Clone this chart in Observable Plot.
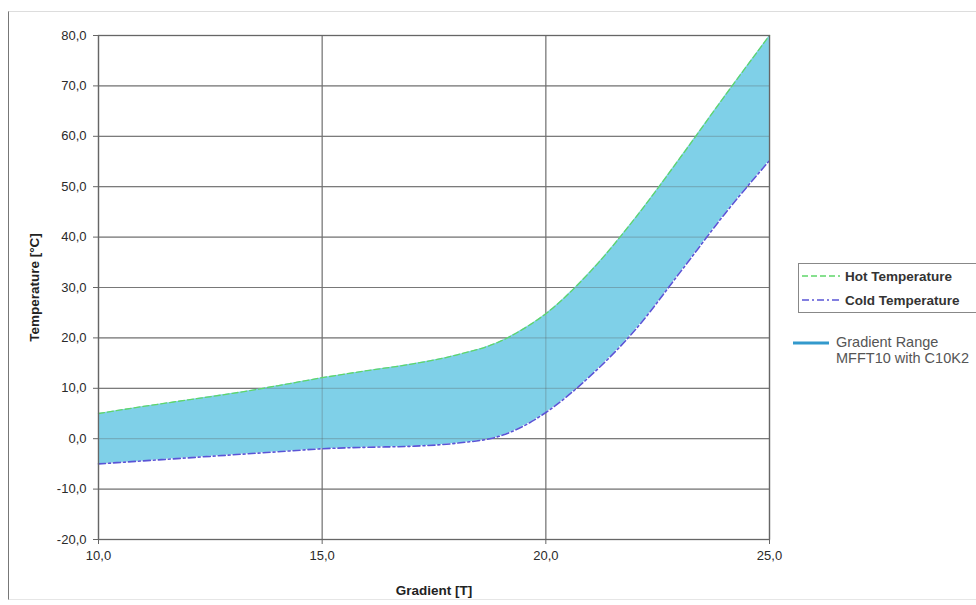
<!DOCTYPE html>
<html>
<head>
<meta charset="utf-8">
<script src="https://cdn.jsdelivr.net/npm/d3@7"></script>
<script src="https://cdn.jsdelivr.net/npm/@observablehq/plot@0.6"></script>
<style>
  html, body { margin: 0; padding: 0; background: #fff; overflow: hidden; }
  #wrap { position: relative; width: 976px; height: 605px; font-family: "Liberation Sans", Arial, sans-serif; }
  #border { position: absolute; left: 8px; top: 11px; width: 968px; height: 589px;
            border-left: 1.5px solid #777; border-top: 1px solid #ddd; border-bottom: 1px solid #e6e6e6; box-sizing: border-box; }
  #chart { position: absolute; left: 0; top: 0; }
  #chart svg text { font-family: "Liberation Sans", Arial, sans-serif; }
  #legend { position: absolute; left: 798px; top: 263px; width: 200px; height: 50px;
            border: 1px solid #888; box-sizing: border-box; background: #fff; }
  .row { position: absolute; left: 3px; height: 18px; display: flex; align-items: center;
         font-size: 13.5px; font-weight: bold; color: #333; white-space: nowrap; }
  .row svg { margin-right: 5px; }
  #range { position: absolute; left: 793px; top: 334px; font-size: 14.5px; color: #555; line-height: 16px; }
  #range svg { position: absolute; left: 0; top: 6px; }
  #range div { position: absolute; left: 43px; top: 0; white-space: nowrap; }
</style>
</head>
<body>
<div id="wrap">
  <div id="border"></div>
  <div id="chart"></div>
  <div id="legend"></div>
  <div id="range"></div>
</div>
<script>
// ---- data ----
const gradient = [10, 11, 12, 13, 14, 15, 16, 17, 18, 19, 19.5, 20, 21, 22, 23, 24, 25];
const hotTemp  = [5.0, 6.4, 7.7, 9.0, 10.5, 12.1, 13.5, 14.8, 16.6, 19.4, 21.8, 24.8, 33.2, 43.8, 55.7, 68.0, 80.0];
const coldTemp = [-5.0, -4.4, -3.8, -3.2, -2.6, -2.0, -1.7, -1.5, -0.9, 0.6, 2.5, 5.2, 12.5, 21.6, 33.0, 44.6, 55.2];
const xTicks = [10, 15, 20, 25];
const yTicks = [-20, -10, 0, 10, 20, 30, 40, 50, 60, 70, 80];
const seriesNames = ["Hot Temperature", "Cold Temperature"];
const rangeLabel = ["Gradient Range", "MFFT10 with C10K2"];

const colors = { hot: "#5fd66a", cold: "#5a55d6", fill: "#7fd0e8", range: "#3399cc" };

const data = gradient.map((g, i) => ({ g, hot: hotTemp[i], cold: coldTemp[i] }));
const fmt = d => d3.format(".1f")(d).replace(".", ",").replace("−", "-");

const chart = Plot.plot({
  width: 976,
  height: 605,
  marginLeft: 98,
  marginRight: 207,
  marginTop: 35,
  marginBottom: 66,
  style: { fontSize: "13px", color: "#2a2a2a", background: "transparent" },
  x: { domain: [10, 25] },
  y: { domain: [-20, 80] },
  marks: [
    Plot.gridY(yTicks, { stroke: "#8a8a8a", strokeOpacity: 1, strokeWidth: 1.2 }),
    Plot.gridX(xTicks, { stroke: "#8a8a8a", strokeOpacity: 1, strokeWidth: 1.2 }),
    Plot.areaY(data, { x: "g", y1: "cold", y2: "hot", fill: colors.fill, curve: "monotone-x" }),
    Plot.gridY(yTicks, { stroke: "#555", strokeOpacity: 0.35, strokeWidth: 1 }),
    Plot.gridX(xTicks, { stroke: "#555", strokeOpacity: 0.35, strokeWidth: 1 }),
    Plot.lineY(data, { x: "g", y: "hot", stroke: colors.hot, strokeWidth: 1.3, strokeDasharray: "6,3", curve: "monotone-x" }),
    Plot.lineY(data, { x: "g", y: "cold", stroke: colors.cold, strokeWidth: 1.6, strokeDasharray: "7,3,2,3", curve: "monotone-x" }),
    Plot.frame({ stroke: "#666", strokeWidth: 1.3 }),
    Plot.axisY(yTicks, { tickFormat: fmt, tickSize: 5, tickPadding: 7, stroke: "#666", fontSize: 13,
      label: "Temperature [°C]", labelAnchor: "center", labelOffset: 69, labelArrow: "none" }),
    Plot.axisX(xTicks, { tickFormat: fmt, tickSize: 5, tickPadding: 6, stroke: "#666", fontSize: 13,
      label: "Gradient [T]", labelAnchor: "center", labelOffset: 55, labelArrow: "none" })
  ]
});
document.getElementById("chart").appendChild(chart);
// tick label size and bold axis titles
chart.querySelectorAll('[aria-label$="tick label"]').forEach(g => {
  g.setAttribute("font-size", "13px");
  g.style.fontSize = "13px";
});
chart.querySelectorAll('[aria-label$="axis label"]').forEach(g => {
  g.setAttribute("font-weight", "bold");
  g.setAttribute("font-size", "13.5px");
  g.style.fontSize = "13.5px";
  g.setAttribute("fill", "#222");
});

// ---- legend (HTML) ----
const legend = document.getElementById("legend");
const styles = [
  { color: colors.hot, dash: "6,3", w: 1.5 },
  { color: colors.cold, dash: "7,3,2,3", w: 1.6 }
];
seriesNames.forEach((name, i) => {
  const row = document.createElement("div");
  row.className = "row";
  row.style.top = (3 + i * 24) + "px";
  row.innerHTML = `<svg width="38" height="6"><line x1="0" y1="3" x2="38" y2="3" stroke="${styles[i].color}" stroke-width="${styles[i].w}" stroke-dasharray="${styles[i].dash}"/></svg><span>${name}</span>`;
  legend.appendChild(row);
});
const range = document.getElementById("range");
range.innerHTML = `<svg width="37" height="6"><line x1="0" y1="3" x2="36" y2="3" stroke="${colors.range}" stroke-width="3"/></svg><div>${rangeLabel.join("<br>")}</div>`;
</script>
</body>
</html>
